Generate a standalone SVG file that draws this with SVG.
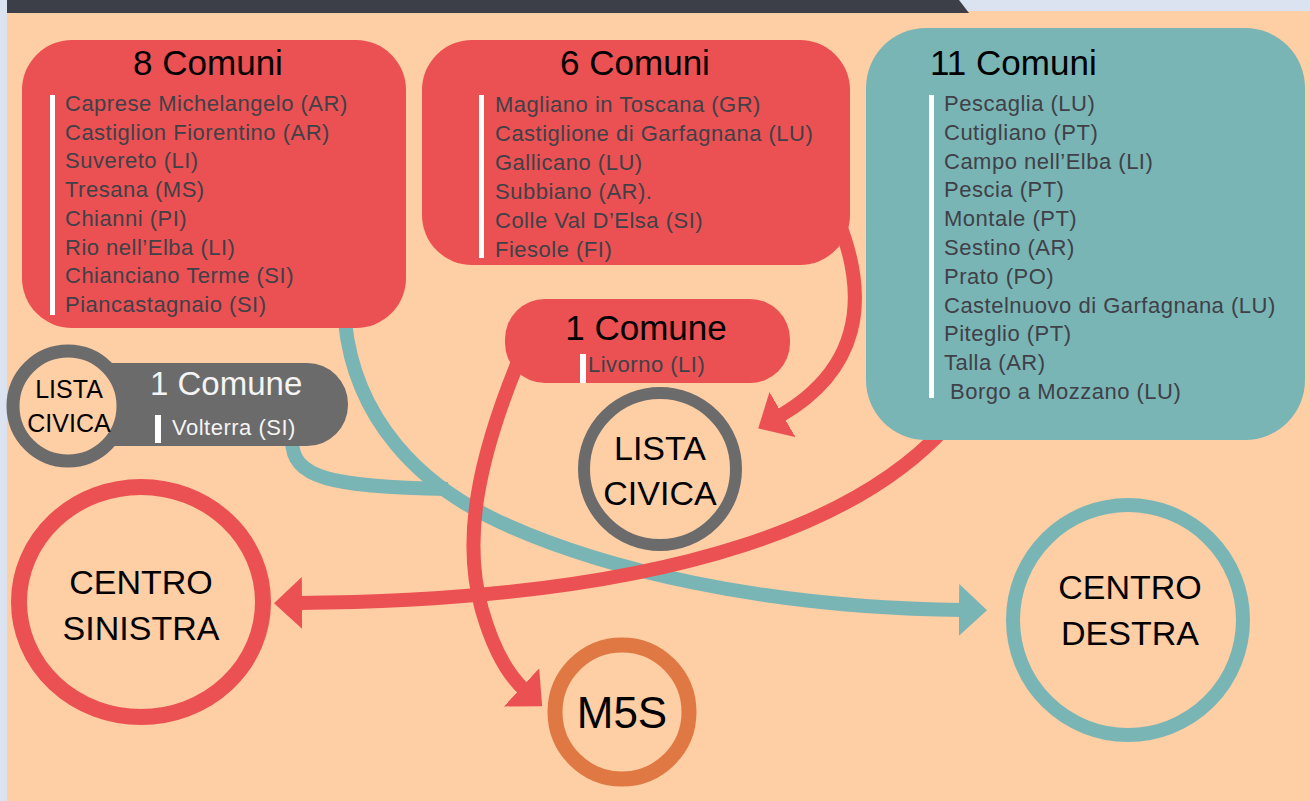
<svg xmlns="http://www.w3.org/2000/svg" width="1310" height="801" viewBox="0 0 1310 801">
<defs>
<style>
.t{font-family:"Liberation Sans",Arial,sans-serif;}
.title{font-size:35px;fill:#000;}
.item{font-size:22px;fill:#404048;letter-spacing:0.5px;}
.wt{fill:#f4f4f4;}
.circ{font-size:34px;fill:#000;text-anchor:middle;}
.bar{fill:#fff;}
.con{fill:none;stroke-width:14;}
</style>
<marker id="arR" markerUnits="userSpaceOnUse" markerWidth="28" markerHeight="52" viewBox="0 0 28 52" refX="4" refY="26" orient="auto"><path d="M0,0 L28,26 L0,52 z" fill="#eb5152"/></marker>
<marker id="arT" markerUnits="userSpaceOnUse" markerWidth="28" markerHeight="52" viewBox="0 0 28 52" refX="4" refY="26" orient="auto"><path d="M0,0 L28,26 L0,52 z" fill="#79b5b4"/></marker>
</defs>
<rect x="0" y="0" width="1310" height="801" fill="#fecea5"/>
<rect x="0" y="0" width="7" height="801" fill="#dce3f0"/>
<rect x="950" y="0" width="360" height="11" fill="#dce3f0"/>
<polygon points="7,0 959,0 969,13 7,13" fill="#3c3f48"/>

<g id="connectors">
<path class="con" stroke="#79b5b4" d="M345,322 C355,420 420,485 500,522 C600,568 760,608 963,610" marker-end="url(#arT)"/>
<path class="con" stroke="#79b5b4" d="M292,440 C292,478 330,487 448,489"/>
<path class="con" stroke="#eb5152" d="M838,220 C870,300 860,370 779,416.5" marker-end="url(#arR)"/>
<path class="con" stroke="#eb5152" d="M945,428 C870,510 700,600 298,603" marker-end="url(#arR)"/>
<path class="con" stroke="#eb5152" d="M518,362 C478,460 462,540 482,610 C492,645 505,672 524.5,690" marker-end="url(#arR)"/>
</g>

<g id="box8">
<rect x="22" y="40" width="384" height="288" rx="50" fill="#eb5152"/>
<text class="t title" x="208" y="75" text-anchor="middle">8 Comuni</text>
<rect class="bar" x="50" y="95" width="5" height="220"/>
<g class="t item">
<text x="65" y="111">Caprese Michelangelo (AR)</text>
<text x="65" y="139.7">Castiglion Fiorentino (AR)</text>
<text x="65" y="168.4">Suvereto (LI)</text>
<text x="65" y="197.1">Tresana (MS)</text>
<text x="65" y="225.8">Chianni (PI)</text>
<text x="65" y="254.5">Rio nell’Elba (LI)</text>
<text x="65" y="283.2">Chianciano Terme (SI)</text>
<text x="65" y="311.9">Piancastagnaio (SI)</text>
</g>
</g>

<g id="box6">
<rect x="422" y="40" width="428" height="225" rx="50" fill="#eb5152"/>
<text class="t title" x="635" y="75" text-anchor="middle">6 Comuni</text>
<rect class="bar" x="479" y="95" width="5" height="163"/>
<g class="t item">
<text x="495" y="112">Magliano in Toscana (GR)</text>
<text x="495" y="141">Castiglione di Garfagnana (LU)</text>
<text x="495" y="170">Gallicano (LU)</text>
<text x="495" y="199">Subbiano (AR).</text>
<text x="495" y="228">Colle Val D’Elsa (SI)</text>
<text x="495" y="257">Fiesole (FI)</text>
</g>
</g>

<g id="box11">
<rect x="866" y="28" width="439" height="412" rx="60" fill="#79b5b4"/>
<text class="t title" x="930" y="75">11 Comuni</text>
<rect class="bar" x="929" y="95" width="5" height="303"/>
<g class="t item">
<text x="944" y="111">Pescaglia (LU)</text>
<text x="944" y="139.8">Cutigliano (PT)</text>
<text x="944" y="168.6">Campo nell’Elba (LI)</text>
<text x="944" y="197.4">Pescia (PT)</text>
<text x="944" y="226.2">Montale (PT)</text>
<text x="944" y="255">Sestino (AR)</text>
<text x="944" y="283.8">Prato (PO)</text>
<text x="944" y="312.6">Castelnuovo di Garfagnana (LU)</text>
<text x="944" y="341.4">Piteglio (PT)</text>
<text x="944" y="370.2">Talla (AR)</text>
<text x="950" y="399">Borgo a Mozzano (LU)</text>
</g>
</g>

<g id="box1red">
<rect x="505" y="299" width="285" height="84" rx="40" fill="#eb5152"/>
<text class="t title" x="646" y="340" text-anchor="middle">1 Comune</text>
<rect class="bar" x="580" y="354" width="6" height="29"/>
<text class="t item" x="588" y="372">Livorno (LI)</text>
</g>

<g id="box1gray">
<rect x="70" y="363" width="278" height="83" rx="41" fill="#6b6b6b"/>
<text class="t title wt" x="150" y="395" style="font-size:33px">1 Comune</text>
<rect class="bar" x="155" y="415" width="6" height="28"/>
<text class="t item wt" x="172" y="435">Volterra (SI)</text>
</g>

<g id="lista-small">
<circle cx="68" cy="406" r="55" fill="#fecea5" stroke="#6b6b6b" stroke-width="13"/>
<text class="t circ" x="69" y="398" style="font-size:25px">LISTA</text>
<text class="t circ" x="69" y="432" style="font-size:25px">CIVICA</text>
</g>

<g id="lista-big">
<circle cx="660" cy="469" r="76" fill="#fecea5" stroke="#6b6b6b" stroke-width="12"/>
<text class="t circ" x="660" y="460">LISTA</text>
<text class="t circ" x="660" y="505">CIVICA</text>
</g>

<g id="centro-sinistra">
<ellipse cx="141" cy="602" rx="122" ry="115" fill="none" stroke="#eb5152" stroke-width="16"/>
<text class="t circ" x="141" y="594">CENTRO</text>
<text class="t circ" x="141" y="640">SINISTRA</text>
</g>

<g id="centro-destra">
<circle cx="1128" cy="620" r="115" fill="none" stroke="#79b5b4" stroke-width="14"/>
<text class="t circ" x="1130" y="599">CENTRO</text>
<text class="t circ" x="1130" y="645">DESTRA</text>
</g>

<g id="m5s">
<circle cx="622" cy="712" r="67" fill="none" stroke="#e07843" stroke-width="15"/>
<text class="t circ" x="622" y="728" style="font-size:44px">M5S</text>
</g>
</svg>
